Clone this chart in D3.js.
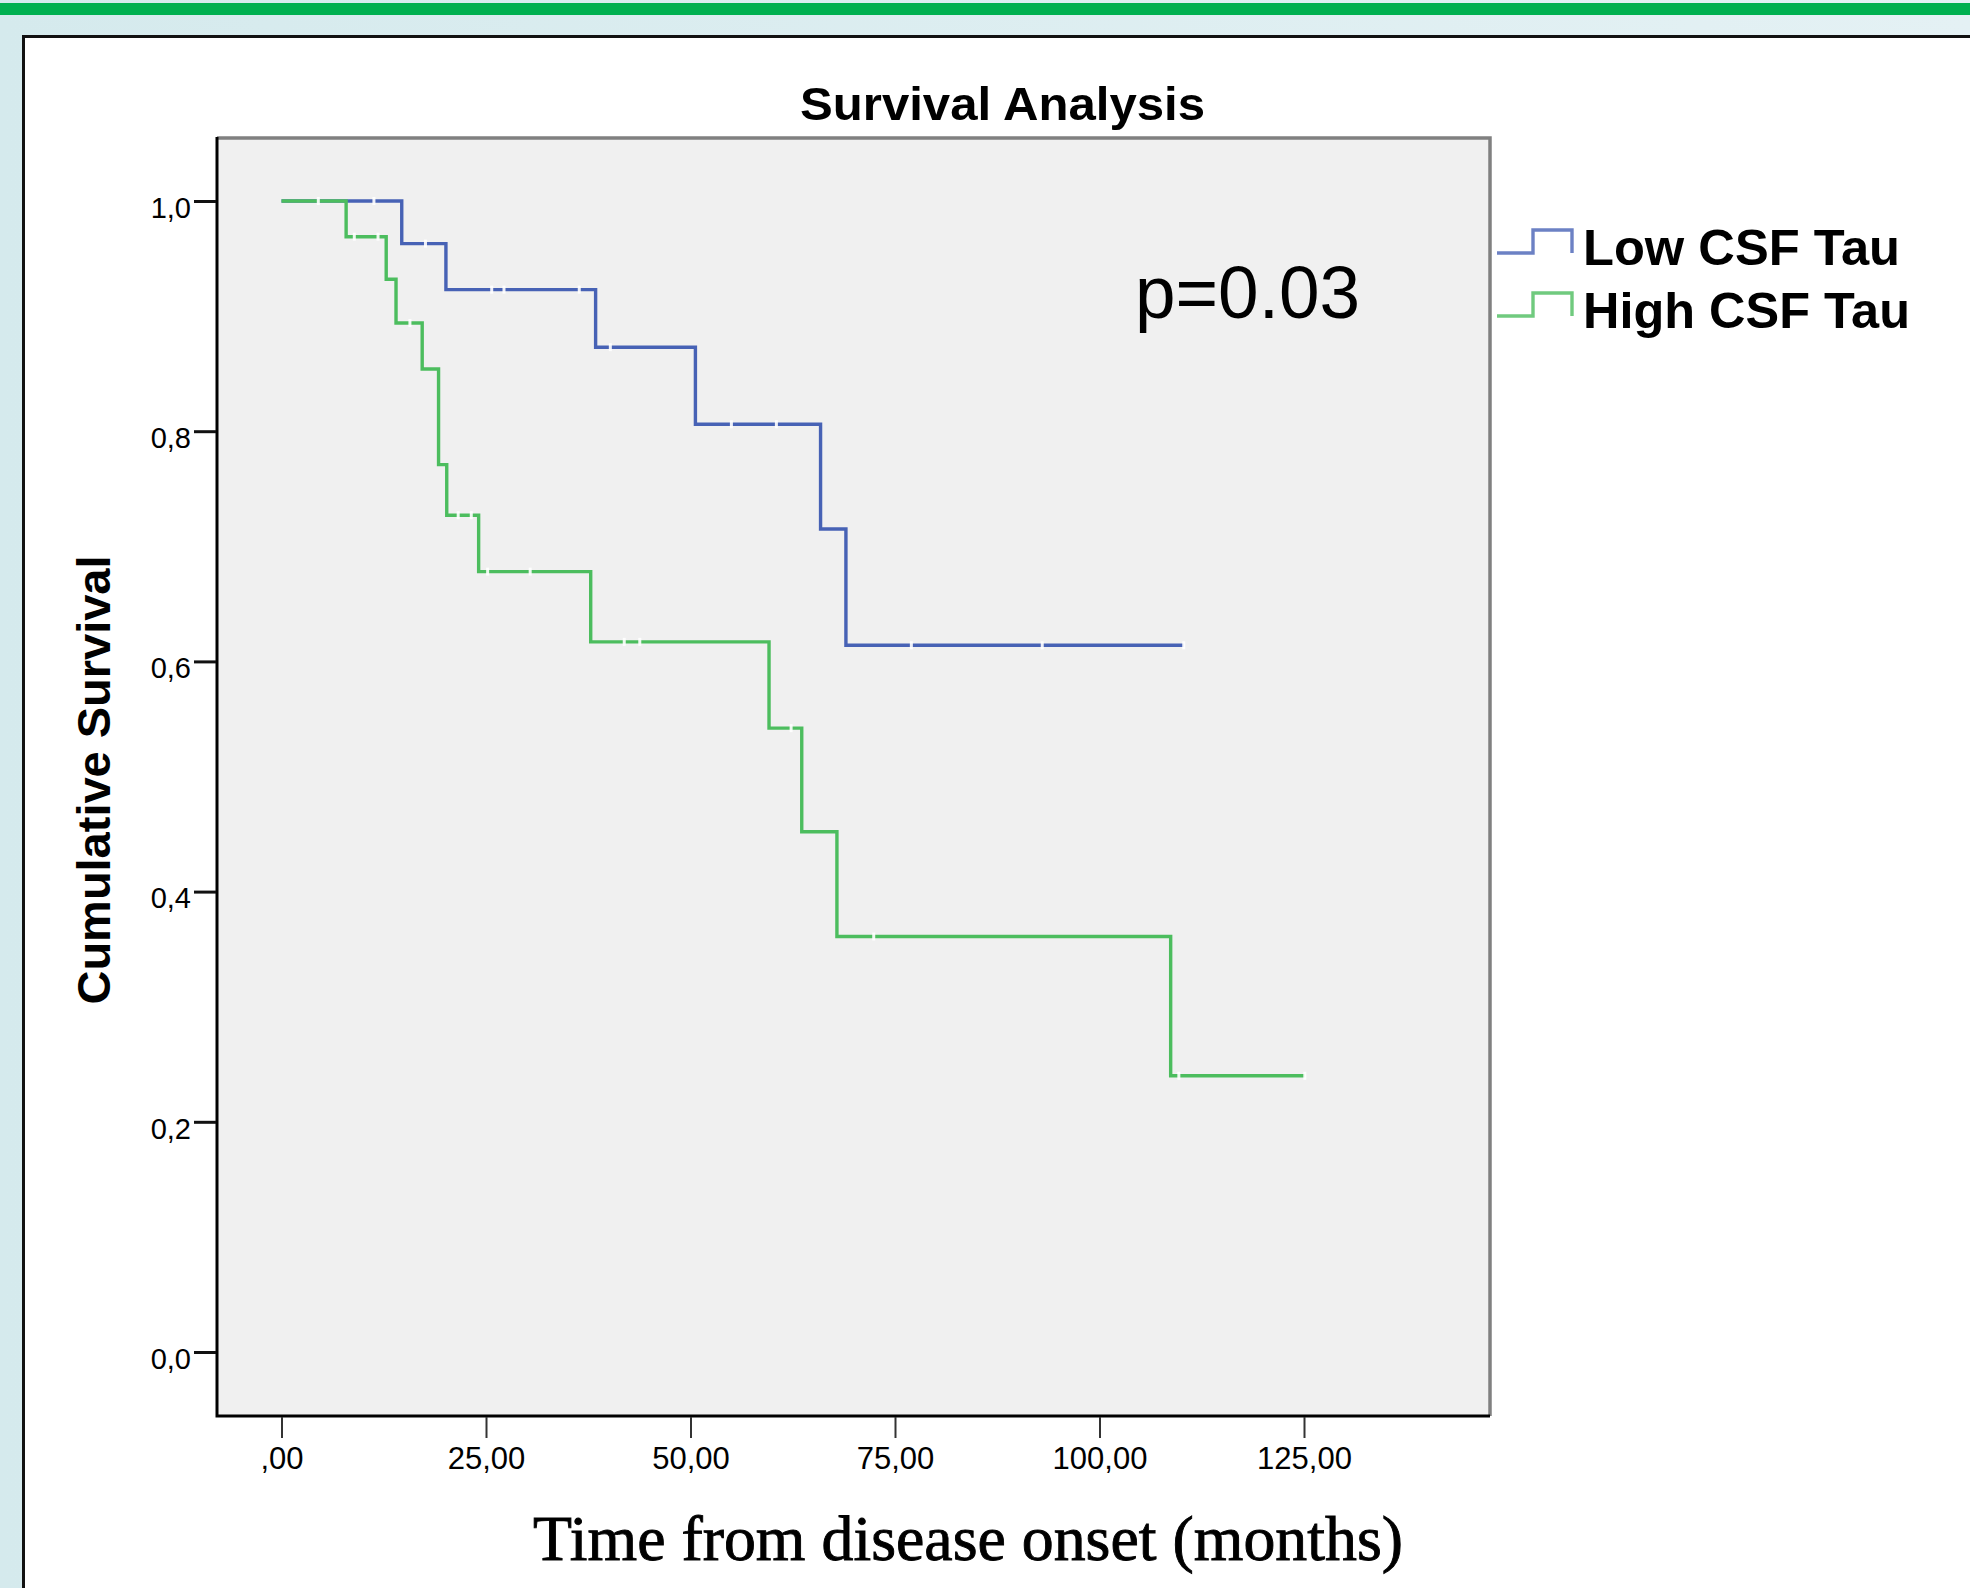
<!DOCTYPE html>
<html>
<head>
<meta charset="utf-8">
<script src="https://cdn.jsdelivr.net/npm/d3@7"></script>
<style>
    body { margin: 0; padding: 0; background: #ffffff; }
    svg { display: block; }
    .tickLabel { font-family: "Liberation Sans", Arial, sans-serif; fill: #000; }
</style>
</head>
<body>
<div id="chart"></div>
<script>

// Kaplan-Meier steps (time in months, cumulative survival)
var lowTimes = [0, 14.7, 20.1, 38.4, 50.6, 65.9, 69.0];
var lowSurv  = [1.0, 0.963, 0.923, 0.873, 0.806, 0.715, 0.614];
var lowEnd = 110.3;
var lowCensored = [11.3, 17.6, 25.7, 27.2, 36.4, 40.2, 55.0, 60.5, 77.0, 93.0, 110.3];

var highTimes = [0, 7.9, 12.8, 14.0, 17.2, 19.2, 20.2, 24.1, 37.8, 59.6, 63.6, 67.9, 108.7];
var highSurv  = [1.0, 0.969, 0.932, 0.894, 0.854, 0.771, 0.727, 0.678, 0.617, 0.542, 0.452, 0.361, 0.240];
var highEnd = 125.1;
var highCensored = [4.5, 8.9, 11.8, 15.7, 21.6, 23.2, 25.2, 30.4, 41.9, 43.8, 62.3, 72.4, 109.7, 125.1];

var xTicks = [0, 25, 50, 75, 100, 125];
var yTicks = [0, 0.2, 0.4, 0.6, 0.8, 1.0];
var seriesNames = ["Low CSF Tau", "High CSF Tau"];
var seriesColors = ["#4762b5", "#4cbd5e"];

var W = 1970, H = 1588;
var plot = {left: 217, top: 138, right: 1490, bottom: 1416};

var svg = d3.select("#chart")
    .append("svg")
    .attr("width", W)
    .attr("height", H);

//---------------------------------------------------------------------
// page background, green banner and white panel

var defs = svg.append("defs");
var grad = defs.append("linearGradient")
    .attr("id", "bg")
    .attr("x1", "0").attr("x2", "1").attr("y1", "0").attr("y2", "0");
grad.append("stop").attr("offset", "0").attr("stop-color", "#d5eaed");
grad.append("stop").attr("offset", "1").attr("stop-color", "#e4f1f4");

svg.append("rect")
    .attr("width", W)
    .attr("height", H)
    .attr("fill", "url(#bg)");

svg.append("rect")
    .attr("x", 0).attr("y", 3)
    .attr("width", W).attr("height", 12)
    .attr("fill", "#00b050");

svg.append("rect")
    .attr("x", 23.5).attr("y", 36.5)
    .attr("width", W).attr("height", H)
    .attr("fill", "#ffffff")
    .attr("stroke", "#111")
    .attr("stroke-width", 3);

//---------------------------------------------------------------------
// scales and plot frame

var x = d3.scaleLinear()
    .domain([0, 125])
    .range([281.5, 1304]);

var y = d3.scaleLinear()
    .domain([0, 1])
    .range([1352, 201]);

svg.append("rect")
    .attr("x", plot.left)
    .attr("y", plot.top)
    .attr("width", plot.right - plot.left)
    .attr("height", plot.bottom - plot.top)
    .attr("fill", "#f0f0f0");

svg.append("path")
    .attr("d", "M" + plot.left + "," + plot.top + "H" + plot.right + "V" + plot.bottom)
    .attr("fill", "none")
    .attr("stroke", "#808080")
    .attr("stroke-width", 3.5);

svg.append("path")
    .attr("d", "M" + plot.left + "," + (plot.top - 1) + "V" + plot.bottom + "H" + plot.right)
    .attr("fill", "none")
    .attr("stroke", "#000")
    .attr("stroke-width", 3);

//---------------------------------------------------------------------
// axes

var yAxis = d3.axisLeft(y)
    .tickValues(yTicks)
    .tickSize(22)
    .tickSizeOuter(0)
    .tickPadding(3)
    .tickFormat(function(d) { return d3.format(".1f")(d).replace(".", ","); });

var gy = svg.append("g")
    .attr("transform", "translate(" + (plot.left - 1) + ",0)")
    .call(yAxis);
gy.select(".domain").remove();
gy.selectAll("line").attr("stroke", "#111").attr("stroke-width", 3);
gy.selectAll("text")
    .classed("tickLabel", true)
    .attr("font-size", 29)
    .attr("dy", "0.56em");

var xAxis = d3.axisBottom(x)
    .tickValues(xTicks)
    .tickSize(21)
    .tickSizeOuter(0)
    .tickPadding(9)
    .tickFormat(function(d) { return d === 0 ? ",00" : d3.format(".2f")(d).replace(".", ","); });

var gx = svg.append("g")
    .attr("transform", "translate(0," + (plot.bottom + 1) + ")")
    .call(xAxis);
gx.select(".domain").remove();
gx.selectAll("line").attr("stroke", "#333").attr("stroke-width", 2);
gx.selectAll("text")
    .classed("tickLabel", true)
    .attr("font-size", 31);

//---------------------------------------------------------------------
// survival curves

function stepPath(times, surv, end) {
    var pts = [];
    for (var i = 0; i < times.length; i++) {
        if (i > 0) pts.push([times[i], surv[i - 1]]);
        pts.push([times[i], surv[i]]);
    }
    pts.push([end, surv[surv.length - 1]]);
    return d3.line()
        .x(function(d) { return x(d[0]); })
        .y(function(d) { return y(d[1]); })(pts);
}

function survAt(times, surv, t) {
    var s = surv[0];
    for (var i = 0; i < times.length; i++) {
        if (times[i] <= t) s = surv[i];
    }
    return s;
}

var curves = [
    {times: lowTimes, surv: lowSurv, end: lowEnd, cens: lowCensored, color: seriesColors[0]},
    {times: highTimes, surv: highSurv, end: highEnd, cens: highCensored, color: seriesColors[1]}
];

curves.forEach(function(c) {
    svg.append("path")
        .attr("d", stepPath(c.times, c.surv, c.end))
        .attr("fill", "none")
        .attr("stroke", c.color)
        .attr("stroke-width", 3.4)
        .attr("stroke-linejoin", "miter");
});

// censored cases show up as small white ticks cutting the line
curves.forEach(function(c) {
    svg.selectAll(null)
        .data(c.cens)
        .enter()
        .append("rect")
        .attr("x", function(d) { return x(d) - 1.5; })
        .attr("y", function(d) { return y(survAt(c.times, c.surv, d)) - 4; })
        .attr("width", 3)
        .attr("height", 8)
        .attr("fill", "#ffffff")
        .attr("opacity", 0.9);
});

//---------------------------------------------------------------------
// texts

svg.append("text")
    .attr("x", 800)
    .attr("y", 120)
    .attr("font-family", "Liberation Sans, Arial, sans-serif")
    .attr("font-weight", "bold")
    .attr("font-size", 47)
    .attr("textLength", 405)
    .attr("lengthAdjust", "spacingAndGlyphs")
    .text("Survival Analysis");

svg.append("text")
    .attr("transform", "translate(110,780) rotate(-90)")
    .attr("text-anchor", "middle")
    .attr("font-family", "Liberation Sans, Arial, sans-serif")
    .attr("font-weight", "bold")
    .attr("font-size", 47)
    .attr("textLength", 449)
    .attr("lengthAdjust", "spacingAndGlyphs")
    .text("Cumulative Survival");

svg.append("text")
    .attr("x", 533)
    .attr("y", 1560)
    .attr("font-family", "Liberation Serif, Times New Roman, serif")
    .attr("font-size", 64)
    .attr("stroke", "#000")
    .attr("stroke-width", 0.9)
    .attr("textLength", 870)
    .attr("lengthAdjust", "spacingAndGlyphs")
    .text("Time from disease onset (months)");

svg.append("text")
    .attr("x", 1135)
    .attr("y", 318)
    .attr("font-family", "Liberation Sans, Arial, sans-serif")
    .attr("font-size", 74)
    .attr("textLength", 225)
    .attr("lengthAdjust", "spacingAndGlyphs")
    .text("p=0.03");

//---------------------------------------------------------------------
// legend

var legend = [
    {name: seriesNames[0], color: seriesColors[0], base: 265, len: 317},
    {name: seriesNames[1], color: seriesColors[1], base: 328, len: 327}
];

legend.forEach(function(l) {
    var low = l.base - 12, high = l.base - 35;
    svg.append("path")
        .attr("d", "M1497," + low + "H1533V" + high + "H1572V" + low)
        .attr("fill", "none")
        .attr("stroke", l.color)
        .attr("stroke-width", 3.4)
        .attr("opacity", 0.8);

    svg.append("text")
        .attr("x", 1583)
        .attr("y", l.base)
        .attr("font-family", "Liberation Sans, Arial, sans-serif")
        .attr("font-weight", "bold")
        .attr("font-size", 50)
        .attr("textLength", l.len)
        .attr("lengthAdjust", "spacingAndGlyphs")
        .text(l.name);
});

</script>
</body>
</html>
